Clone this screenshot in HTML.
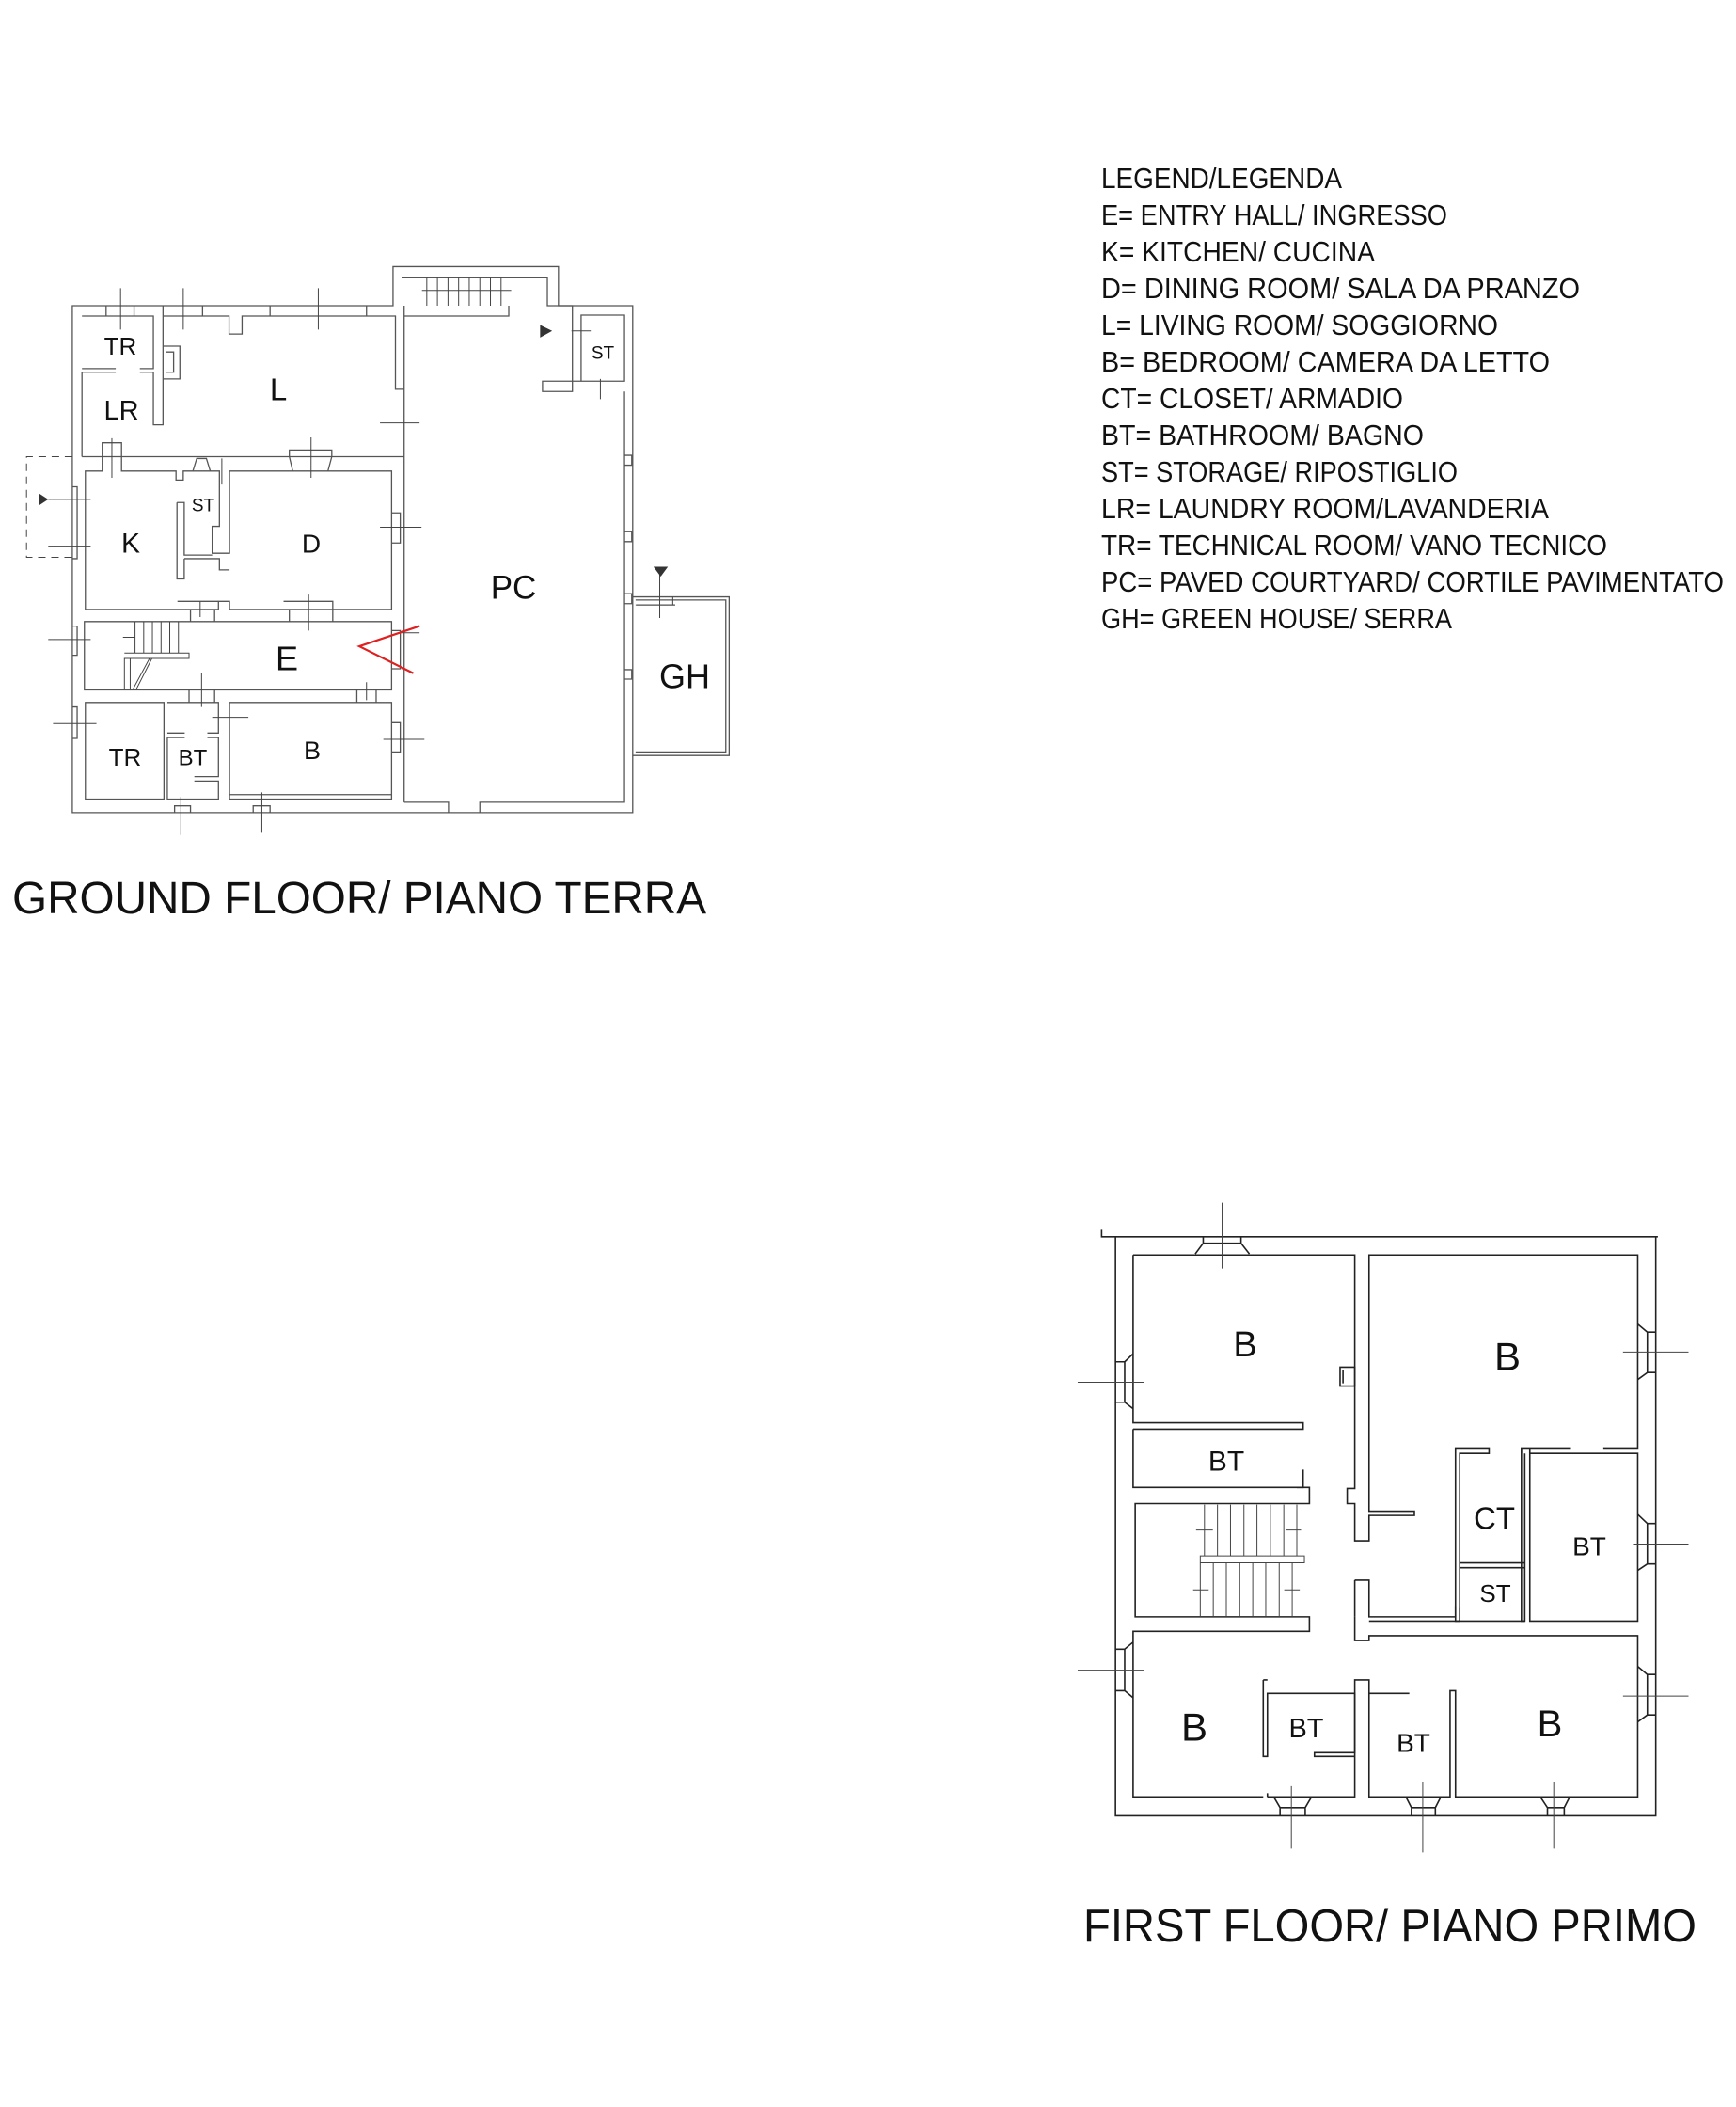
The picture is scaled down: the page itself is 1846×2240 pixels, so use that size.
<!DOCTYPE html>
<html><head><meta charset="utf-8"><style>
html,body{margin:0;padding:0;background:#fff;}
svg{display:block;}
text{font-family:"Liberation Sans Narrow","Liberation Sans",sans-serif;fill:#111;}
.w{fill:none;stroke:#555;stroke-width:1.3;vector-effect:non-scaling-stroke;}
.k{fill:none;stroke:#222;stroke-width:1.6;vector-effect:non-scaling-stroke;}
.t{fill:none;stroke:#444;stroke-width:1;vector-effect:non-scaling-stroke;}
</style></head><body>
<svg width="1846" height="2240" viewBox="0 0 1846 2240" xmlns="http://www.w3.org/2000/svg">
<rect width="1846" height="2240" fill="#fff"/>

<!-- GROUND FLOOR -->
<g transform="translate(0,250) scale(0.5128,0.4777)">
 <path class="w" d="M150,157 H815 V70 H1158 V157 H1312 V1285 H150 Z"/>
 <path class="w" d="M838,1262 V180 H1055 V157 M838,180 V157"/>
 <path class="w" d="M833,95 H1135 V157 H1187 V348 H1125 V325 H1205 M1205,178 H1295 V325 H1205 Z"/>
 <path class="w" d="M1295,348 V1262 H995 V1285 M930,1285 V1262 H838"/>
 <path class="t" d="M885,95 V157 M907,95 V157 M929,95 V157 M951,95 V157 M973,95 V157 M995,95 V157 M1017,95 V157 M1039,95 V157 M875,123 H1060"/>
 <path class="w" d="M170,180 H318 V297 H290 M240,297 H170 Z M170,305 H240 M290,305 H318 V422 H338 V180 M170,305 V493"/>
 <path class="w" d="M220,157 V180 M278,157 V180 M338,157 V180 M420,157 V180 M560,157 V180 M760,157 V180"/>
 <path class="w" d="M338,180 H475 V220 H502 V180 H820 V343 H838"/>
 <path class="w" d="M338,247 H373 V320 H338 M345,260 H360 V305 H345"/>
 <path class="w" d="M170,493 H838"/>
 <path class="w" d="M177,525 H212 V462 H252 V525 H365 V545 H380 V525 H455 V648 H440 V708 H476 V525 H812 V833 H476 V815 H453 V833 H177 Z"/>
 <path class="w" d="M367,595 H382 V712 H440 M382,720 H455 V745 H476 M367,595 V765 H382 V720"/>
 <path class="w" d="M600,493 V478 H688 V493 M607,525 L600,493 M680,525 L688,493 M400,525 L408,497 H428 L436,525"/>
 <path class="w" d="M175,860 H812 V1012 H175 Z"/>
 <path class="w" d="M395,833 V860 M445,833 V860 M600,833 V860 M690,833 V860 M588,815 H690 V833 M368,815 H453"/>
 <path class="t" d="M280,860 V930 M298,860 V930 M316,860 V930 M334,860 V930 M352,860 V930 M370,860 V930 M258,930 H392 V942 H258 V1012 M270,942 V1012 M275,1012 L310,942 M282,1012 L315,942 M255,895 H280"/>
 <path class="w" d="M177,1040 H340 V1255 H177 Z M347,1040 H453 V1108 H430 M383,1108 H347 Z M347,1118 H383 M430,1118 H453 V1205 H403 M347,1118 V1255 H453 V1215 H403 M476,1040 H812 V1255 H476 Z M476,1245 H812"/>
 <path class="w" d="M392,1012 V1040 M445,1012 V1040 M740,1012 V1040 M780,1012 V1040"/>
 <path class="w" d="M362,1285 V1270 H395 V1285 M525,1285 V1270 H560 V1285"/>
 <path class="w" d="M150,560 H160 V720 H150 M150,870 H160 V935 H150 M150,1050 H160 V1120 H150 M812,618 H830 V685 H812 M812,880 H830 V965 H812 M812,1085 H830 V1150 H812"/>
 <path class="w" d="M1295,490 H1310 V512 H1295 M1295,660 H1310 V682 H1295 M1295,798 H1310 V820 H1295 M1295,967 H1310 V988 H1295"/>
 <path class="w" d="M1312,805 H1512 V1158 H1312 M1318,812 H1505 V1150 H1318"/>
 <path class="t" d="M1395,805 V823 M1320,823 H1400"/>
 <path class="t" d="M150,493 H55 V717 H150" stroke-dasharray="8,6"/>
 <path class="t" d="M250,118 V210 M380,118 V210 M660,118 V210 M788,418 H870 M645,450 V540 M232,452 V540 M460,497 V555 M100,588 H188 M100,692 H188 M788,650 H874 M640,800 V880 M415,815 V850 M100,900 H188 M835,885 H870 M418,975 V1050 M440,1073 H515 M760,995 V1035 M110,1087 H200 M795,1122 H880 M375,1250 V1335 M543,1240 V1330 M1185,213 H1225 M1245,320 V365 M1368,750 V852 M1318,823 H1400"/>
 <path d="M1120,200 L1145,213 L1120,228 Z M80,574 L100,588 L80,602 Z M1355,738 H1385 L1370,760 Z" fill="#333"/>
 <path d="M870,870 L745,915 L857,975" fill="none" stroke="#e02020" stroke-width="2.2" vector-effect="non-scaling-stroke"/>
</g>
<text x="128" y="368" font-size="26" text-anchor="middle" dominant-baseline="central">TR</text>
<text x="129" y="437" font-size="29" text-anchor="middle" dominant-baseline="central">LR</text>
<text x="296" y="414" font-size="33" text-anchor="middle" dominant-baseline="central">L</text>
<text x="641" y="376" font-size="19" text-anchor="middle" dominant-baseline="central">ST</text>
<text x="139" y="578" font-size="30" text-anchor="middle" dominant-baseline="central">K</text>
<text x="216" y="538" font-size="19" text-anchor="middle" dominant-baseline="central">ST</text>
<text x="331" y="578" font-size="28" text-anchor="middle" dominant-baseline="central">D</text>
<text x="546" y="625" font-size="35" text-anchor="middle" dominant-baseline="central">PC</text>
<text x="305" y="700" font-size="36" text-anchor="middle" dominant-baseline="central">E</text>
<text x="728" y="719" font-size="36" text-anchor="middle" dominant-baseline="central">GH</text>
<text x="133" y="805" font-size="26" text-anchor="middle" dominant-baseline="central">TR</text>
<text x="205" y="806" font-size="24" text-anchor="middle" dominant-baseline="central">BT</text>
<text x="332" y="798" font-size="27" text-anchor="middle" dominant-baseline="central">B</text>
<text x="13" y="971" font-size="48" textLength="738" lengthAdjust="spacingAndGlyphs">GROUND FLOOR/ PIANO TERRA</text>

<g font-size="31">
<text x="1171" y="200" textLength="256" lengthAdjust="spacingAndGlyphs">LEGEND/LEGENDA</text>
<text x="1171" y="239" textLength="368" lengthAdjust="spacingAndGlyphs">E= ENTRY HALL/ INGRESSO</text>
<text x="1171" y="278" textLength="291" lengthAdjust="spacingAndGlyphs">K= KITCHEN/ CUCINA</text>
<text x="1171" y="317" textLength="509" lengthAdjust="spacingAndGlyphs">D= DINING ROOM/ SALA DA PRANZO</text>
<text x="1171" y="356" textLength="422" lengthAdjust="spacingAndGlyphs">L= LIVING ROOM/ SOGGIORNO</text>
<text x="1171" y="395" textLength="477" lengthAdjust="spacingAndGlyphs">B=  BEDROOM/ CAMERA DA LETTO</text>
<text x="1171" y="434" textLength="321" lengthAdjust="spacingAndGlyphs">CT= CLOSET/ ARMADIO</text>
<text x="1171" y="473" textLength="343" lengthAdjust="spacingAndGlyphs">BT= BATHROOM/ BAGNO</text>
<text x="1171" y="512" textLength="379" lengthAdjust="spacingAndGlyphs">ST= STORAGE/ RIPOSTIGLIO</text>
<text x="1171" y="551" textLength="476" lengthAdjust="spacingAndGlyphs">LR= LAUNDRY ROOM/LAVANDERIA</text>
<text x="1171" y="590" textLength="538" lengthAdjust="spacingAndGlyphs">TR= TECHNICAL ROOM/ VANO TECNICO</text>
<text x="1171" y="629" textLength="662" lengthAdjust="spacingAndGlyphs">PC= PAVED COURTYARD/ CORTILE PAVIMENTATO</text>
<text x="1171" y="668" textLength="373" lengthAdjust="spacingAndGlyphs">GH= GREEN HOUSE/ SERRA</text>
</g>

<g transform="translate(1100,1250) scale(0.4464,0.5732)">
 <path class="k" d="M160,100 V113 H1485 M193,113 V1187 H1480 V113"/>
 <path class="k" d="M235,147 H763 V580 H745 V608 H763 V677 H797 V630 H905 V622 H797 V147 H1437 V505 H1355 M1278,505 H1160 V826 H1168 V515 M1083,505 H1003 V826 H1013 V515 H1083 Z"/>
 <path class="k" d="M235,147 V458 H640 V470 H235 M235,470 V578 H640 V545"/>
 <path class="k" d="M625,578 H655 V608 H240 V818 H655 V845 H235 V1152 H545 M555,1152 H763 V935 H797 V960 H893 M797,960 V1152 H990 V955 H1003 V1152 H1437 V853 H797 V862 H763 V845 M763,845 V818"/>
 <path class="k" d="M1013,718 H1168 M1013,727 H1168 M1013,826 H1003 M1013,800 V826 H1168 M1180,515 H1437 V826 H1180 Z M1180,515 V505 M1160,505 V515"/>
 <path class="k" d="M763,750 H797 V818 H1003 V798 M763,750 V818 M797,826 H1003"/>
 <path class="k" d="M545,935 V1077 H555 V960 H763 V1070 H667 V1077 H763 M545,935 H555 M555,1145 V1152"/>
 <path class="k" d="M728,355 H763 V390 H728 Z M735,360 V385"/>
 <path class="t" d="M405,610 V705 M436,610 V705 M467,610 V705 M499,610 V705 M530,610 V705 M562,610 V705 M594,610 V705 M625,610 V705 M395,705 H643 V718 H395 Z M395,718 V818 M426,718 V818 M457,718 V818 M489,718 V818 M520,718 V818 M551,718 V818 M583,718 V818 M614,718 V818 M385,657 H425 M600,657 H635 M378,768 H415 M595,768 H632"/>
 <path class="k" d="M383,145 L402,125 H492 L512,145 M402,113 V125 M492,113 V125 M193,345 H215 V420 H193 M215,345 L235,330 M215,420 L235,432 M1480,290 H1460 V365 H1480 M1460,290 L1437,275 M1460,365 L1437,378 M1480,645 H1460 V720 H1480 M1460,645 L1437,628 M1460,720 L1437,732 M193,878 H215 V955 H193 M215,878 L235,865 M215,955 L235,968 M1480,925 H1460 V1000 H1480 M1460,925 L1437,910 M1460,1000 L1437,1013 M570,1152 L585,1172 H645 L660,1152 M585,1172 V1187 M645,1172 V1187 M885,1152 L898,1172 H955 L968,1152 M898,1172 V1187 M955,1172 V1187 M1205,1152 L1222,1172 H1262 L1275,1152 M1222,1172 V1187 M1262,1172 V1187"/>
 <path class="t" d="M447,50 V172 M103,383 H262 M1402,327 H1558 M1428,683 H1558 M103,917 H262 M1402,965 H1558 M612,1132 V1248 M925,1125 V1255 M1237,1125 V1248"/>
</g>
<text x="1324" y="1430" font-size="38" text-anchor="middle" dominant-baseline="central">B</text>
<text x="1603" y="1442" font-size="42" text-anchor="middle" dominant-baseline="central">B</text>
<text x="1304" y="1554" font-size="30" text-anchor="middle" dominant-baseline="central">BT</text>
<text x="1589" y="1614" font-size="33" text-anchor="middle" dominant-baseline="central">CT</text>
<text x="1690" y="1644" font-size="28" text-anchor="middle" dominant-baseline="central">BT</text>
<text x="1590" y="1694" font-size="26" text-anchor="middle" dominant-baseline="central">ST</text>
<text x="1270" y="1836" font-size="42" text-anchor="middle" dominant-baseline="central">B</text>
<text x="1389" y="1838" font-size="29" text-anchor="middle" dominant-baseline="central">BT</text>
<text x="1503" y="1853" font-size="28" text-anchor="middle" dominant-baseline="central">BT</text>
<text x="1648" y="1833" font-size="40" text-anchor="middle" dominant-baseline="central">B</text>
<text x="1152" y="2064" font-size="49" textLength="652" lengthAdjust="spacingAndGlyphs">FIRST FLOOR/ PIANO PRIMO</text>
</svg>
</body></html>
